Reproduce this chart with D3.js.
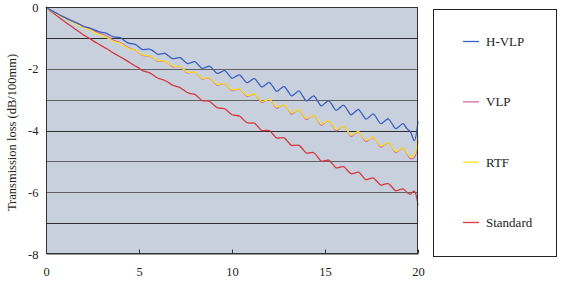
<!DOCTYPE html>
<html>
<head>
<meta charset="utf-8">
<script src="https://cdn.jsdelivr.net/npm/d3@7"></script>
<style>
  html, body { margin: 0; padding: 0; background: #ffffff; }
  svg { display: block; }
  text { font-family: "Liberation Serif", "Times New Roman", serif; fill: #222; }
</style>
</head>
<body>
<svg id="chart" width="563" height="287"></svg>
<script>
// Frequency sampling (GHz): 0 to 20 in 0.2 steps
const freqStep = 0.2;
const xTicks = [0, 5, 10, 15, 20];
const yTicks = [0, -2, -4, -6, -8];
const yGrid = [-1, -2, -3, -4, -5, -6, -7];
const seriesNames = ["H-VLP", "VLP", "RTF", "Standard"];

const hvlp = [0,-0.08,-0.15,-0.21,-0.28,-0.34,-0.40,-0.45,-0.51,-0.56,
  -0.63,-0.66,-0.69,-0.74,-0.79,-0.82,-0.84,-0.90,-0.96,-0.98,
  -0.99,-1.08,-1.16,-1.19,-1.21,-1.30,-1.38,-1.37,-1.37,-1.44,
  -1.53,-1.52,-1.50,-1.59,-1.67,-1.66,-1.64,-1.73,-1.83,-1.80,
  -1.77,-1.88,-1.99,-1.95,-1.92,-2.03,-2.15,-2.11,-2.06,-2.18,
  -2.31,-2.25,-2.20,-2.32,-2.45,-2.39,-2.32,-2.45,-2.59,-2.52,
  -2.44,-2.58,-2.73,-2.65,-2.58,-2.72,-2.88,-2.80,-2.72,-2.88,
  -3.04,-2.96,-2.88,-3.04,-3.20,-3.12,-3.04,-3.19,-3.35,-3.26,
  -3.18,-3.33,-3.49,-3.40,-3.32,-3.47,-3.63,-3.55,-3.46,-3.62,
  -3.78,-3.70,-3.62,-3.78,-3.94,-3.86,-3.78,-3.94,-4.05,-4.33,-3.70];

const vlp = [0,-0.08,-0.15,-0.21,-0.28,-0.33,-0.39,-0.45,-0.50,-0.56,
  -0.62,-0.67,-0.72,-0.78,-0.83,-0.88,-0.93,-0.99,-1.07,-1.11,
  -1.15,-1.23,-1.31,-1.36,-1.40,-1.49,-1.57,-1.58,-1.59,-1.67,
  -1.75,-1.75,-1.77,-1.84,-1.93,-1.93,-1.93,-2.03,-2.13,-2.12,
  -2.12,-2.22,-2.33,-2.31,-2.31,-2.41,-2.53,-2.50,-2.48,-2.59,
  -2.71,-2.68,-2.66,-2.77,-2.89,-2.86,-2.82,-2.95,-3.09,-3.04,
  -3.00,-3.12,-3.28,-3.21,-3.18,-3.30,-3.47,-3.39,-3.33,-3.48,
  -3.65,-3.56,-3.51,-3.65,-3.83,-3.74,-3.69,-3.83,-4.01,-3.92,
  -3.87,-4.01,-4.19,-4.10,-4.05,-4.19,-4.36,-4.28,-4.22,-4.37,
  -4.54,-4.46,-4.40,-4.55,-4.72,-4.63,-4.57,-4.74,-4.91,-4.88,-4.32];

const rtf = [0,-0.09,-0.16,-0.23,-0.30,-0.36,-0.42,-0.48,-0.54,-0.60,
  -0.66,-0.71,-0.76,-0.82,-0.87,-0.92,-0.96,-1.03,-1.11,-1.14,
  -1.18,-1.26,-1.33,-1.37,-1.40,-1.48,-1.55,-1.57,-1.58,-1.66,
  -1.73,-1.74,-1.76,-1.83,-1.91,-1.92,-1.92,-2.02,-2.11,-2.11,
  -2.11,-2.21,-2.31,-2.30,-2.30,-2.40,-2.50,-2.49,-2.47,-2.58,
  -2.68,-2.67,-2.65,-2.76,-2.86,-2.85,-2.81,-2.94,-3.06,-3.03,
  -2.99,-3.11,-3.24,-3.20,-3.17,-3.29,-3.43,-3.38,-3.32,-3.47,
  -3.61,-3.55,-3.50,-3.64,-3.79,-3.73,-3.68,-3.82,-3.97,-3.91,
  -3.86,-4.00,-4.15,-4.09,-4.04,-4.18,-4.32,-4.27,-4.21,-4.36,
  -4.50,-4.45,-4.39,-4.54,-4.68,-4.62,-4.56,-4.72,-4.86,-4.80,-4.12];

const standard = [0,-0.11,-0.20,-0.29,-0.38,-0.47,-0.56,-0.64,-0.73,-0.81,
  -0.90,-0.97,-1.04,-1.12,-1.19,-1.26,-1.33,-1.40,-1.48,-1.55,
  -1.62,-1.69,-1.76,-1.84,-1.91,-1.98,-2.06,-2.10,-2.14,-2.22,
  -2.30,-2.34,-2.38,-2.45,-2.53,-2.57,-2.61,-2.69,-2.77,-2.81,
  -2.83,-2.93,-3.03,-3.04,-3.06,-3.16,-3.26,-3.28,-3.29,-3.39,
  -3.49,-3.51,-3.53,-3.64,-3.74,-3.76,-3.76,-3.88,-4.00,-4.00,
  -4.00,-4.12,-4.24,-4.24,-4.24,-4.36,-4.48,-4.48,-4.48,-4.60,
  -4.73,-4.72,-4.72,-4.85,-4.99,-4.98,-4.96,-5.08,-5.21,-5.19,
  -5.17,-5.29,-5.40,-5.38,-5.35,-5.47,-5.59,-5.56,-5.54,-5.65,
  -5.77,-5.74,-5.72,-5.83,-5.95,-5.92,-5.89,-6.00,-6.06,-5.96,-6.42];

const seriesValues = [hvlp, vlp, rtf, standard];
const seriesColors = ["#3b5fc2", "#d66aa8", "#f7e12a", "#d6393f"];
// draw order: standard, vlp, rtf, hvlp (yellow over pink)
const drawOrder = [3, 1, 2, 0];

const svg = d3.select("#chart");
const plot = { left: 46, right: 418, top: 7, bottom: 254 };

const x = d3.scaleLinear().domain([0, 20]).range([plot.left, plot.right]);
const y = d3.scaleLinear().domain([-8, 0]).range([plot.bottom, plot.top]);

// plot background
svg.append("rect")
  .attr("x", plot.left).attr("y", plot.top)
  .attr("width", plot.right - plot.left).attr("height", plot.bottom - plot.top)
  .attr("fill", "#c9d0dd");

// gridlines
svg.append("g").selectAll("line").data(yGrid).join("line")
  .attr("x1", plot.left).attr("x2", plot.right)
  .attr("y1", d => Math.round(y(d)) + 0.5).attr("y2", d => Math.round(y(d)) + 0.5)
  .attr("stroke", (d, i) => (i % 3 === 0 ? "#2e2e2e" : "#606060"))
  .attr("stroke-width", 1);

// series lines
const line = d3.line()
  .x((d, i) => x(i * freqStep))
  .y(d => y(d))
  .curve(d3.curveCatmullRom.alpha(0.5));

svg.append("g").selectAll("path").data(drawOrder).join("path")
  .attr("d", k => line(seriesValues[k]))
  .attr("fill", "none")
  .attr("stroke", k => seriesColors[k])
  .attr("stroke-width", 1.3)
  .attr("stroke-linejoin", "round");

// plot border
svg.append("rect")
  .attr("x", plot.left + 0.5).attr("y", plot.top + 0.5)
  .attr("width", plot.right - plot.left - 1).attr("height", plot.bottom - plot.top - 1)
  .attr("fill", "none").attr("stroke", "#333").attr("stroke-width", 1);

// x axis
const xAxis = d3.axisBottom(x).tickValues(xTicks).tickSizeInner(-4).tickSizeOuter(0).tickPadding(14)
  .tickFormat(d3.format("d"));
const gx = svg.append("g").attr("transform", `translate(0,${plot.bottom - 0.5})`).call(xAxis);
gx.select(".domain").attr("stroke", "#333");
gx.selectAll(".tick line").attr("stroke", "#333");
gx.selectAll("text").attr("font-size", 12.5).attr("font-family", "Liberation Serif, serif").attr("fill", "#222");

// y axis
const yAxis = d3.axisLeft(y).tickValues(yTicks).tickSize(0).tickPadding(8)
  .tickFormat(d3.format("d"));
const gy = svg.append("g").attr("transform", `translate(${plot.left + 0.5},0)`).call(yAxis);
gy.select(".domain").remove();
gy.selectAll("text").attr("font-size", 12.5).attr("font-family", "Liberation Serif, serif").attr("fill", "#222")
  .text(d => (d < 0 ? "-" + Math.abs(d) : d));

// y title
svg.append("text")
  .attr("transform", `translate(16,${(plot.top + plot.bottom) / 2 + 2}) rotate(-90)`)
  .attr("text-anchor", "middle")
  .attr("font-size", 12.5)
  .text("Transmission loss (dB/100mm)");

// legend
const legend = { x: 433, y: 9, w: 123, h: 247 };
svg.append("rect")
  .attr("x", legend.x + 0.5).attr("y", legend.y + 0.5)
  .attr("width", legend.w).attr("height", legend.h)
  .attr("fill", "#fff").attr("stroke", "#222").attr("stroke-width", 1);

const legendY = d3.scalePoint().domain(seriesNames).range([41.5, 222.5]);
const lg = svg.append("g").selectAll("g").data(seriesNames).join("g")
  .attr("transform", d => `translate(0,${legendY(d)})`);
lg.append("line")
  .attr("x1", 463).attr("x2", 479).attr("y1", 0).attr("y2", 0)
  .attr("stroke", (d, i) => seriesColors[i]).attr("stroke-width", 1.3);
lg.append("text")
  .attr("x", 486).attr("y", 0).attr("dy", "0.35em")
  .attr("font-size", 13)
  .text(d => d);
</script>
</body>
</html>
